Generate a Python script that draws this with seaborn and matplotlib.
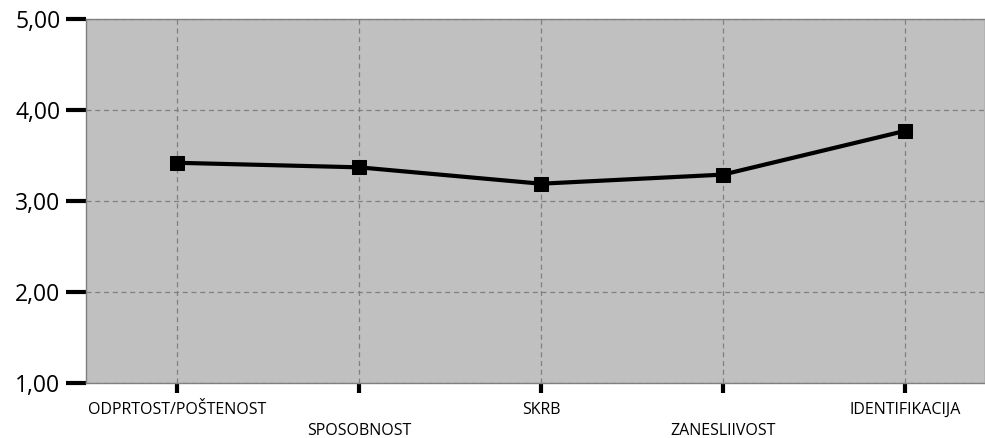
import matplotlib
matplotlib.use("Agg")
import matplotlib.pyplot as plt
import seaborn as sns
import pandas as pd

categories = ["ODPRTOST/POŠTENOST", "SPOSOBNOST", "SKRB", "ZANESLIIVOST", "IDENTIFIKACIJA"]
values = [3.42, 3.37, 3.19, 3.29, 3.77]
yticks = [1, 2, 3, 4, 5]
ytick_labels = ["1,00", "2,00", "3,00", "4,00", "5,00"]

sns.set_style("white")
plt.rcParams['font.family'] = ['Open Sans', 'DejaVu Sans']

fig = plt.figure(figsize=(9.85, 4.38), dpi=100)
ax = fig.add_axes([86/985, 1-383/438, (985-86)/985, (383-19)/438])
ax.set_facecolor("#c0c0c0")

df = pd.DataFrame({"x": list(range(len(categories))), "y": values})
sns.lineplot(data=df, x="x", y="y", ax=ax, color="black", linewidth=3,
             marker="s", markersize=10, markeredgecolor="black", zorder=5)

ax.set_xlim(-0.5, 4.44)
ax.set_ylim(1, 5)
ax.set_yticks(yticks)
ax.set_yticklabels(ytick_labels, fontsize=16.5, color="black")
ax.set_xticks(range(len(categories)))
ax.set_xticklabels([("" if i % 2 == 0 else "\n") + c for i, c in enumerate(categories)],
                   fontsize=11.5, color="black", linespacing=1.4)
ax.set_xlabel("")
ax.set_ylabel("")

ax.grid(True, color="#808080", linestyle=(0, (4, 3)), linewidth=0.9)
ax.set_axisbelow(True)
for s in ax.spines.values():
    s.set_color("#808080")
    s.set_linewidth(1)

ax.tick_params(axis="y", direction="out", length=14.4, width=3, color="black", pad=4, left=True)
ax.tick_params(axis="x", direction="out", length=7, width=3, color="black", pad=6.5, bottom=True)

fig.savefig("out.png", dpi=100)
